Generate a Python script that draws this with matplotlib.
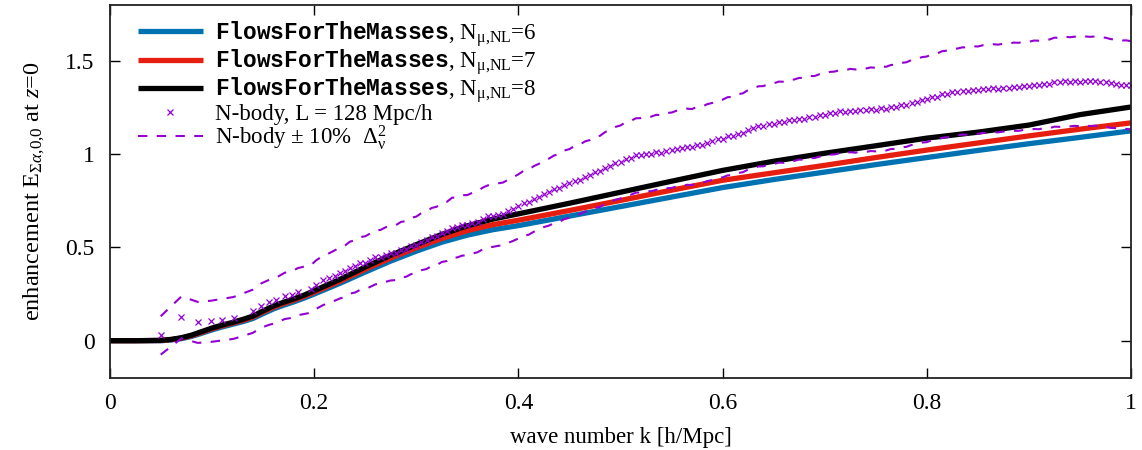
import matplotlib
matplotlib.use("Agg")
import matplotlib.pyplot as plt
import numpy as np

plt.rcParams["font.family"] = ["Liberation Serif", "DejaVu Serif"]
plt.rcParams["mathtext.fontset"] = "custom"
plt.rcParams["mathtext.rm"] = "Liberation Serif"
plt.rcParams["mathtext.it"] = "Liberation Serif:italic"
plt.rcParams["mathtext.tt"] = "Liberation Mono:bold"
plt.rcParams["font.size"] = 16.5

# FlowsForTheMasses enhancement for three values of N_mu,NL
k_model = [0, 0.025, 0.05, 0.06, 0.07, 0.08, 0.09, 0.10, 0.11, 0.12, 0.13, 0.14,
           0.15, 0.16, 0.17, 0.18, 0.19, 0.20, 0.225, 0.25, 0.275, 0.30, 0.325,
           0.35, 0.375, 0.40, 0.45, 0.50, 0.55, 0.60, 0.65, 0.70, 0.75, 0.80,
           0.85, 0.90, 0.95, 1.00]
E_n6 = [0, 0, 0.0, 0.004, 0.011, 0.023, 0.040, 0.058, 0.074, 0.088, 0.102, 0.119,
        0.145, 0.170, 0.190, 0.208, 0.228, 0.250, 0.307, 0.368, 0.427, 0.480, 0.528,
        0.566, 0.595, 0.617, 0.668, 0.719, 0.770, 0.821, 0.864, 0.904, 0.944, 0.982,
        1.020, 1.056, 1.090, 1.125]
E_n7 = [0, 0, 0.001, 0.006, 0.014, 0.027, 0.045, 0.064, 0.080, 0.094, 0.109, 0.127,
        0.154, 0.179, 0.199, 0.217, 0.237, 0.260, 0.318, 0.383, 0.443, 0.498, 0.548,
        0.590, 0.622, 0.646, 0.698, 0.752, 0.807, 0.860, 0.900, 0.940, 0.982, 1.022,
        1.060, 1.098, 1.134, 1.168]
E_n8 = [0, 0, 0.002, 0.007, 0.016, 0.030, 0.049, 0.068, 0.084, 0.098, 0.114, 0.132,
        0.160, 0.186, 0.206, 0.224, 0.244, 0.268, 0.328, 0.395, 0.458, 0.515, 0.570,
        0.616, 0.652, 0.680, 0.737, 0.796, 0.855, 0.913, 0.962, 1.005, 1.045, 1.086,
        1.118, 1.156, 1.212, 1.253]

# N-body measurement, L = 128 Mpc/h
k_nbody = [0.0497, 0.0700, 0.0860, 0.0990, 0.1100, 0.1210, 0.1400, 0.1480, 0.1560,
           0.1630, 0.1710, 0.1780, 0.1840, 0.1970, 0.2020, 0.2090, 0.2145, 0.2200,
           0.225, 0.230, 0.235, 0.240, 0.245, 0.250, 0.255, 0.260, 0.265, 0.270,
           0.275, 0.280, 0.285, 0.290, 0.295, 0.300, 0.305, 0.310, 0.315, 0.320,
           0.325, 0.330, 0.335, 0.340, 0.345, 0.350, 0.355, 0.360, 0.365, 0.370,
           0.375, 0.380, 0.385, 0.390, 0.395, 0.400, 0.405, 0.410, 0.415, 0.420,
           0.425, 0.430, 0.435, 0.440, 0.445, 0.450, 0.455, 0.460, 0.465, 0.470,
           0.475, 0.480, 0.485, 0.490, 0.495, 0.500, 0.505, 0.510, 0.515, 0.520,
           0.525, 0.530, 0.535, 0.540, 0.545, 0.550, 0.555, 0.560, 0.565, 0.570,
           0.575, 0.580, 0.585, 0.590, 0.595, 0.600, 0.605, 0.610, 0.615, 0.620,
           0.625, 0.630, 0.635, 0.640, 0.645, 0.650, 0.655, 0.660, 0.665, 0.670,
           0.675, 0.680, 0.685, 0.690, 0.695, 0.700, 0.705, 0.710, 0.715, 0.720,
           0.725, 0.730, 0.735, 0.740, 0.745, 0.750, 0.755, 0.760, 0.765, 0.770,
           0.775, 0.780, 0.785, 0.790, 0.795, 0.800, 0.805, 0.810, 0.815, 0.820,
           0.825, 0.830, 0.835, 0.840, 0.845, 0.850, 0.855, 0.860, 0.865, 0.870,
           0.875, 0.880, 0.885, 0.890, 0.895, 0.900, 0.905, 0.910, 0.915, 0.920,
           0.925, 0.930, 0.935, 0.940, 0.945, 0.950, 0.955, 0.960, 0.965, 0.970,
           0.975, 0.980, 0.985, 0.990, 0.995, 1.000]
E_nbody = [0.028, 0.125, 0.098, 0.104, 0.113, 0.122, 0.158, 0.188, 0.206,
           0.217, 0.240, 0.247, 0.263, 0.278, 0.301, 0.324, 0.335, 0.349,
           0.362, 0.372, 0.392, 0.398, 0.414, 0.418, 0.432, 0.447, 0.449, 0.462,
           0.470, 0.472, 0.488, 0.492, 0.508, 0.514, 0.531, 0.538, 0.556, 0.562,
           0.580, 0.586, 0.606, 0.607, 0.618, 0.619, 0.630, 0.638, 0.655, 0.666,
           0.670, 0.676, 0.680, 0.694, 0.706, 0.720, 0.737, 0.742, 0.760, 0.771,
           0.788, 0.797, 0.812, 0.818, 0.836, 0.843, 0.858, 0.864, 0.880, 0.887,
           0.902, 0.908, 0.926, 0.937, 0.951, 0.958, 0.974, 0.980, 0.993, 0.994,
           1.003, 1.001, 1.010, 1.008, 1.019, 1.021, 1.030, 1.031, 1.040, 1.038,
           1.049, 1.050, 1.062, 1.068, 1.080, 1.084, 1.096, 1.097, 1.110, 1.115,
           1.131, 1.138, 1.149, 1.150, 1.161, 1.163, 1.172, 1.171, 1.181, 1.182,
           1.190, 1.189, 1.199, 1.199, 1.208, 1.209, 1.219, 1.221, 1.229, 1.227,
           1.234, 1.231, 1.237, 1.235, 1.241, 1.239, 1.246, 1.244, 1.253, 1.254,
           1.263, 1.266, 1.277, 1.280, 1.291, 1.294, 1.305, 1.309, 1.320, 1.323,
           1.332, 1.333, 1.339, 1.338, 1.344, 1.343, 1.349, 1.348, 1.354, 1.352,
           1.357, 1.356, 1.362, 1.361, 1.367, 1.366, 1.372, 1.371, 1.378, 1.377,
           1.386, 1.385, 1.391, 1.388, 1.391, 1.388, 1.392, 1.390, 1.392, 1.387,
           1.386, 1.379, 1.377, 1.372, 1.373, 1.369]
band_frac = 0.10  # +-10% on Delta^2_nu, i.e. on (1 + E)

x_ticks = [0, 0.2, 0.4, 0.6, 0.8, 1.0]
x_tick_labels = ["0", "0.2", "0.4", "0.6", "0.8", "1"]
y_ticks = [0, 0.5, 1.0, 1.5]
y_tick_labels = ["0", "0.5", "1", "1.5"]

fig = plt.figure(figsize=(11.42, 4.5), dpi=100)
ax = fig.add_axes([0.0963, 0.16, 0.8941, 0.829])

ftm = r"$\mathtt{FlowsForTheMasses}$"
nlab = r", N$_{\mathrm{\mu{,}NL}}$="
ax.plot(k_model, E_n6, color="#0072b2", lw=3.8, solid_capstyle="butt",
        label=ftm + nlab + "6")
ax.plot(k_model, E_n7, color="#e51e10", lw=3.8, solid_capstyle="butt",
        label=ftm + nlab + "7")
ax.plot(k_model, E_n8, color="black", lw=3.8, solid_capstyle="butt",
        label=ftm + nlab + "8")

k_nb = np.array(k_nbody)
E_nb = np.array(E_nbody)
ax.plot(k_nb, E_nb, ls="none", marker="x", ms=4, mew=0.9, color="#9400d3",
        label="N-body, L = 128 Mpc/h")
upper = E_nb + band_frac * (1 + E_nb)
lower = E_nb - band_frac * (1 + E_nb)
ax.plot(k_nb, upper, color="#9400d3", lw=1.5, dashes=(4.5, 4.5),
        label=r"N-body $\pm$ 10%  $\Delta^2_{\mathrm{\nu}}$")
ax.plot(k_nb, lower, color="#9400d3", lw=1.5, dashes=(4.5, 4.5))

ax.set_xlim(0, 1)
ax.set_ylim(-0.2, 1.8)
ax.set_xticks(x_ticks)
ax.set_xticklabels(x_tick_labels)
ax.set_yticks(y_ticks)
ax.set_yticklabels(y_tick_labels)
ax.tick_params(direction="in", top=True, right=True, length=7, width=1,
               pad=11, labelsize=17)
for sp in ax.spines.values():
    sp.set_linewidth(1.3)
    sp.set_color("#222222")

ax.set_xlabel("wave number k [h/Mpc]", fontsize=16.5, labelpad=9)
ax.set_ylabel(r"enhancement E$_{\Sigma\alpha{,}0{,}0}$ at $z$=0", fontsize=17.5,
              labelpad=13)

ax.legend(loc="upper left", bbox_to_anchor=(0.027, 0.963), frameon=False,
          handlelength=2.85, handletextpad=0.55, labelspacing=-0.06,
          borderpad=0, borderaxespad=0, fontsize=16.5)

fig.savefig("out.png", dpi=100)
